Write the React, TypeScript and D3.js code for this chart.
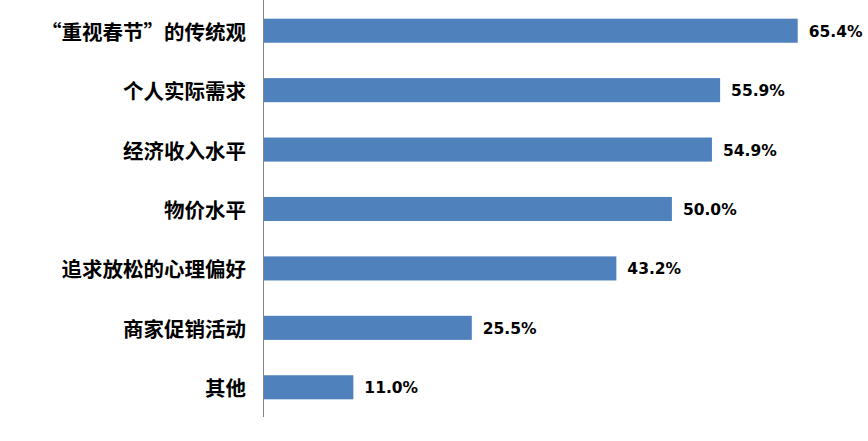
import React from "react";
import * as d3 from "d3";

const categories = ["“重视春节”的传统观", "个人实际需求", "经济收入水平", "物价水平", "追求放松的心理偏好", "商家促销活动", "其他"];
const values = [65.4, 55.9, 54.9, 50.0, 43.2, 25.5, 11.0];

const W = 868;
const H = 441;

export default function App() {
  const x = d3.scaleLinear().domain([0, 65.4]).range([263.5, 797.7]);
  const y = d3.scaleBand<string>().domain(categories).range([1, 417]).paddingInner(0.595).paddingOuter(0.2975);
  return (
    <svg width={W} height={H} style={{ position: "absolute", left: 0, top: 0, background: "#fff" }}>
      {categories.map((c, i) => {
        const yy = y(c)!;
        const bw = y.bandwidth();
        const cy = yy + bw / 2;
        return (
          <g key={c}>
            <rect x={x(0)} y={yy} width={x(values[i]) - x(0)} height={bw} fill="#4F81BD" />
            <text
              x={246}
              y={cy}
              textAnchor="end"
              dominantBaseline="central"
              fontFamily="'Noto Sans CJK SC', sans-serif"
              fontWeight={700}
              fontSize={20.5}
              fill="#000"
              style={{ fontFeatureSettings: '"fwid" 1' }}
            >
              {c}
            </text>
            <text
              x={x(values[i]) + 11}
              y={cy + 1}
              dominantBaseline="central"
              fontFamily="'DejaVu Sans', Verdana, sans-serif"
              fontWeight={700}
              fontSize={15.5}
              fill="#000"
            >
              {d3.format(".1f")(values[i]) + "%"}
            </text>
          </g>
        );
      })}
      <line x1={x(0)} x2={x(0)} y1={0} y2={417} stroke="#868686" strokeWidth={1} />
    </svg>
  );
}
